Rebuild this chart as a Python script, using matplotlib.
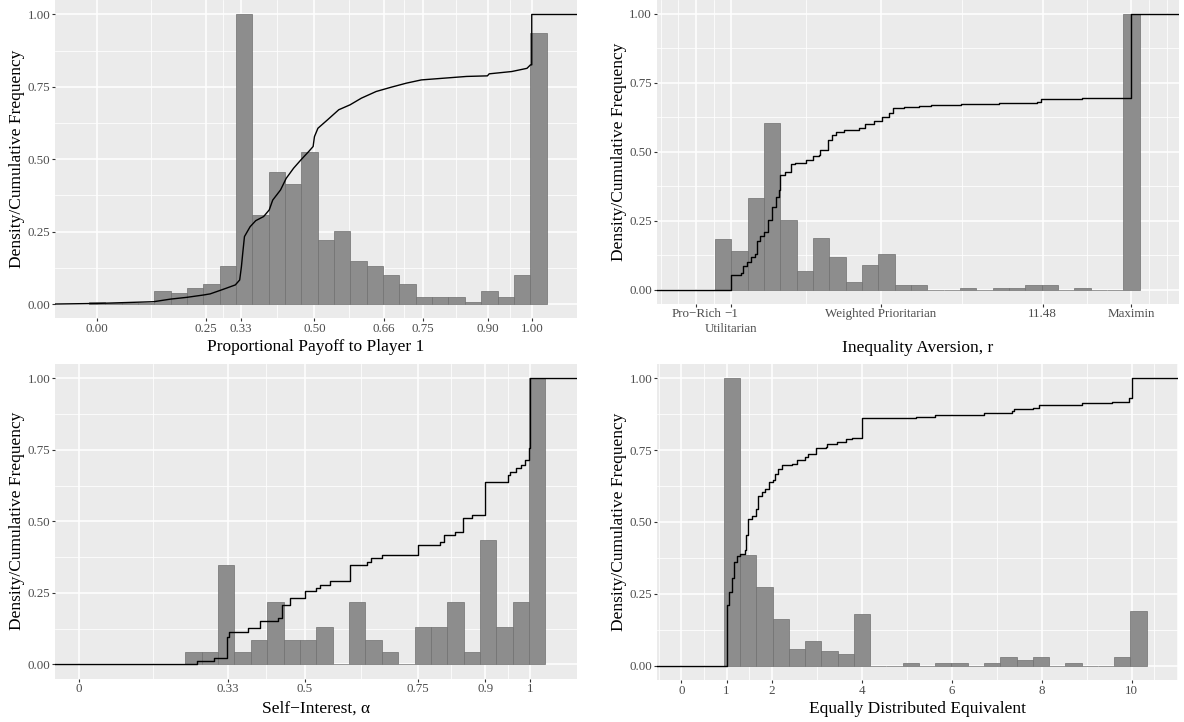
import numpy as np
import matplotlib
matplotlib.use("Agg")
import matplotlib.pyplot as plt

plt.rcParams['font.family'] = ['Liberation Serif', 'DejaVu Serif']

# --- Proportional payoff to player 1 ---
pay_bin_start = -0.0188
pay_bin_width = 0.0376
pay_density = [0.007, 0.002, 0.005, 0.003, 0.045, 0.038, 0.055, 0.069, 0.131, 1.000,
               0.308, 0.456, 0.415, 0.525, 0.221, 0.252, 0.149, 0.131, 0.100, 0.069,
               0.025, 0.025, 0.025, 0.007, 0.045, 0.025, 0.100, 0.937]
pay_ecdf_x = [0.0, 0.13, 0.169, 0.206, 0.244, 0.26, 0.281, 0.296, 0.318, 0.328, 0.332,
              0.335, 0.339, 0.352, 0.365, 0.383, 0.396, 0.404, 0.422, 0.435, 0.452,
              0.469, 0.487, 0.497, 0.50, 0.508, 0.530, 0.556, 0.582, 0.608, 0.642,
              0.677, 0.712, 0.746, 0.798, 0.850, 0.898, 0.902, 0.954, 0.989, 0.997, 1.0]
pay_ecdf_y = [0.002, 0.008, 0.017, 0.023, 0.031, 0.035, 0.046, 0.054, 0.066, 0.083, 0.129,
              0.175, 0.233, 0.267, 0.288, 0.302, 0.325, 0.359, 0.394, 0.434, 0.469,
              0.498, 0.527, 0.544, 0.578, 0.607, 0.636, 0.671, 0.688, 0.711, 0.734,
              0.749, 0.763, 0.774, 0.780, 0.786, 0.788, 0.795, 0.803, 0.814, 0.826, 1.0]
pay_ticks = [0.0, 0.25, 0.33, 0.50, 0.66, 0.75, 0.90, 1.00]
pay_labels = ["0.00", "0.25", "0.33", "0.50", "0.66", "0.75", "0.90", "1.00"]

# --- Inequality aversion (index scale, one unit per bin) ---
ineq_bin_start = 0.0
ineq_bin_width = 1.0
ineq_density = [0.182, 0.142, 0.331, 0.604, 0.251, 0.069, 0.189, 0.120, 0.029, 0.091,
                0.131, 0.018, 0.018, 0.0, 0.0, 0.007, 0.0, 0.007, 0.007, 0.018,
                0.018, 0.0, 0.007, 0.0, 0.0, 1.000]
ineq_ecdf_x = [1.0, 1.62, 1.74, 1.97, 2.2, 2.44, 2.55, 2.78, 3.01, 3.25, 3.48, 3.71, 3.94,
               4.01, 4.29, 4.64, 4.87, 5.57, 6.03, 6.38, 6.42, 6.84, 6.91, 7.19, 7.42,
               7.88, 8.81, 9.16, 9.74, 10.2, 10.67, 10.9, 11.6, 12.52, 13.22, 15.07,
               17.39, 19.71, 19.94, 22.5, 25.5]
ineq_ecdf_y = [0.055, 0.059, 0.087, 0.099, 0.118, 0.13, 0.178, 0.193, 0.208, 0.251, 0.30,
               0.336, 0.36, 0.415, 0.427, 0.457, 0.46, 0.469, 0.484, 0.487, 0.505, 0.508,
               0.542, 0.56, 0.572, 0.58, 0.587, 0.602, 0.612, 0.627, 0.639, 0.657, 0.661,
               0.665, 0.669, 0.672, 0.675, 0.681, 0.691, 0.693, 1.0]
ineq_ticks = [-1.16, 1.0, 10.15, 20.07, 25.5]
ineq_labels = ["Pro\u2212Rich", "\u22121", "Weighted Prioritarian", "11.48", "Maximin"]
ineq_sublabel = "Utilitarian"

# --- Self-interest alpha ---
self_bin_start = 0.2358
self_bin_width = 0.03625
self_density = [0.043, 0.043, 0.348, 0.043, 0.085, 0.218, 0.085, 0.085, 0.131, 0.0, 0.218,
                0.085, 0.043, 0.0, 0.131, 0.131, 0.218, 0.043, 0.435, 0.131, 0.218, 1.000]
self_ecdf_x = [0.2625, 0.30, 0.329, 0.333, 0.375, 0.40, 0.442, 0.45, 0.467, 0.50, 0.525,
               0.533, 0.557, 0.60, 0.6375, 0.646, 0.671, 0.75, 0.80, 0.808, 0.833, 0.85,
               0.871, 0.90, 0.95, 0.954, 0.967, 0.979, 0.9875, 0.996, 1.0]
self_ecdf_y = [0.012, 0.023, 0.097, 0.114, 0.128, 0.150, 0.161, 0.208, 0.231, 0.257, 0.266,
               0.278, 0.292, 0.348, 0.359, 0.371, 0.383, 0.418, 0.429, 0.453, 0.464, 0.511,
               0.523, 0.639, 0.663, 0.674, 0.686, 0.698, 0.715, 0.756, 1.0]
self_ticks = [0.0, 0.33, 0.5, 0.75, 0.9, 1.0]
self_labels = ["0", "0.33", "0.5", "0.75", "0.9", "1"]

# --- Equally distributed equivalent ---
ede_bin_start = 0.94
ede_bin_width = 0.3612
ede_density = [1.000, 0.384, 0.273, 0.162, 0.059, 0.086, 0.052, 0.041, 0.180, 0.0, 0.0,
               0.010, 0.0, 0.010, 0.010, 0.0, 0.010, 0.031, 0.021, 0.031, 0.0, 0.010,
               0.0, 0.0, 0.031, 0.190]
ede_ecdf_x = [1.0, 1.06, 1.12, 1.17, 1.23, 1.31, 1.40, 1.44, 1.48, 1.57, 1.65, 1.69, 1.78,
              1.86, 1.94, 2.03, 2.08, 2.15, 2.24, 2.45, 2.57, 2.74, 2.82, 2.95, 2.99, 3.2,
              3.24, 3.45, 3.66, 3.79, 4.0, 5.21, 5.63, 6.05, 6.72, 7.35, 7.39, 7.81, 7.93,
              8.89, 9.56, 9.94, 10.0]
ede_ecdf_y = [0.212, 0.258, 0.304, 0.362, 0.382, 0.387, 0.402, 0.454, 0.512, 0.521, 0.546,
              0.592, 0.604, 0.615, 0.638, 0.647, 0.667, 0.684, 0.698, 0.702, 0.715, 0.725,
              0.736, 0.738, 0.758, 0.762, 0.773, 0.779, 0.788, 0.793, 0.863, 0.866, 0.871,
              0.874, 0.880, 0.886, 0.892, 0.897, 0.906, 0.915, 0.919, 0.932, 1.0]
ede_ticks = [0, 1, 2, 4, 6, 8, 10]
ede_labels = ["0", "1", "2", "4", "6", "8", "10"]

y_ticks = [0.0, 0.25, 0.50, 0.75, 1.00]
y_labels = ["0.00", "0.25", "0.50", "0.75", "1.00"]

W, H = 1184, 722
fig = plt.figure(figsize=(W / 100, H / 100), dpi=100)
fig.patch.set_facecolor("white")

TICK_SIZE = 9.4
TITLE_SIZE = 12.5


def minor_breaks(major, lim):
    # minor grid in the ggplot way: extend by the first gap, then take midpoints
    b = list(major)
    gap = b[1] - b[0]
    if lim[0] < b[0]:
        b = [b[0] - gap] + b
    if lim[1] > b[-1]:
        b = b + [b[-1] + gap]
    out = []
    for lo, hi in zip(b[:-1], b[1:]):
        out += [lo, (lo + hi) / 2]
    out.append(b[-1])
    return [v for v in out if lim[0] <= v <= lim[1] and
            all(abs(v - m) > 1e-9 for m in major)]


def panel(box, xlim, ticks, labels, xlabel, title_y, ylab_x):
    # box = left, top, right, bottom in pixels; title_y / ylab_x in pixels too
    left, top, right, bottom = box
    ax = fig.add_axes([left / W, 1 - bottom / H, (right - left) / W, (bottom - top) / H])
    ax.set_facecolor("#EBEBEB")
    for s in ax.spines.values():
        s.set_visible(False)
    ax.set_xlim(xlim)
    ax.set_ylim(-0.05, 1.05)
    ax.set_xticks(ticks)
    ax.set_xticklabels(labels)
    ax.set_xticks(minor_breaks(ticks, xlim), minor=True)
    ax.set_yticks(y_ticks)
    ax.set_yticklabels(y_labels)
    ax.set_yticks(minor_breaks(y_ticks, (-0.05, 1.05)), minor=True)
    ax.grid(which="major", color="white", linewidth=1.1)
    ax.grid(which="minor", color="white", linewidth=0.55)
    ax.set_axisbelow(True)
    ax.tick_params(which="minor", length=0)
    ax.tick_params(which="major", length=2.5, width=0.8, color="#333333",
                   labelcolor="#4D4D4D", labelsize=TICK_SIZE, pad=1)
    ax.set_xlabel(xlabel, fontsize=TITLE_SIZE, va="center")
    ax.xaxis.set_label_coords(0.5, -(title_y - bottom) / (bottom - top))
    ax.set_ylabel("Density/Cumulative Frequency", fontsize=TITLE_SIZE, va="center")
    ax.yaxis.set_label_coords((ylab_x - left) / (right - left), 0.5)
    return ax


def draw_hist(ax, start, width, dens):
    edges = start + width * np.arange(len(dens))
    ax.bar(edges, dens, width=width, align="edge", color="#8D8D8D",
           edgecolor="#707070", linewidth=0.5, zorder=2)


def draw_ecdf(ax, xs, ys, steps=True):
    lo, hi = ax.get_xlim()
    if steps:
        x = [lo] + list(xs) + [hi]
        y = [0.0] + list(ys) + [ys[-1]]
        ax.plot(x, y, color="black", linewidth=1.0, drawstyle="steps-post", zorder=3)
    else:
        x = [lo] + list(xs[:-1]) + [xs[-1], xs[-1], hi]
        y = [0.0] + list(ys[:-1]) + [ys[-2], ys[-1], ys[-1]]
        ax.plot(x, y, color="black", linewidth=1.0, zorder=3)


ax1 = panel((55, 0, 576.7, 318.5), (-0.0969, 1.1034), pay_ticks, pay_labels,
            "Proportional Payoff to Player 1", 347.5, 17.5)
draw_hist(ax1, pay_bin_start, pay_bin_width, pay_density)
draw_ecdf(ax1, pay_ecdf_x, pay_ecdf_y, steps=False)

ax2 = panel((656.7, 0, 1178.7, 303.5), (-3.57, 28.4), ineq_ticks, ineq_labels,
            "Inequality Aversion, r", 347.5, 619)
draw_hist(ax2, ineq_bin_start, ineq_bin_width, ineq_density)
draw_ecdf(ax2, ineq_ecdf_x, ineq_ecdf_y)
# second line under the -1 tick
ax2.annotate(ineq_sublabel, xy=(ineq_ticks[1], 0), xycoords=("data", "axes fraction"),
             xytext=(0, -14.0), textcoords="offset points", ha="center", va="top",
             fontsize=TICK_SIZE, color="#4D4D4D")

ax3 = panel((55, 364, 576.7, 678.6), (-0.053, 1.1025), self_ticks, self_labels,
            "Self\u2212Interest, \u03b1", 709, 17.5)
draw_hist(ax3, self_bin_start, self_bin_width, self_density)
draw_ecdf(ax3, self_ecdf_x, self_ecdf_y)

ax4 = panel((657, 364, 1178.3, 680), (-0.544, 11.035), ede_ticks, ede_labels,
            "Equally Distributed Equivalent", 709, 619)
draw_hist(ax4, ede_bin_start, ede_bin_width, ede_density)
draw_ecdf(ax4, ede_ecdf_x, ede_ecdf_y)

fig.savefig("out.png", dpi=100)
